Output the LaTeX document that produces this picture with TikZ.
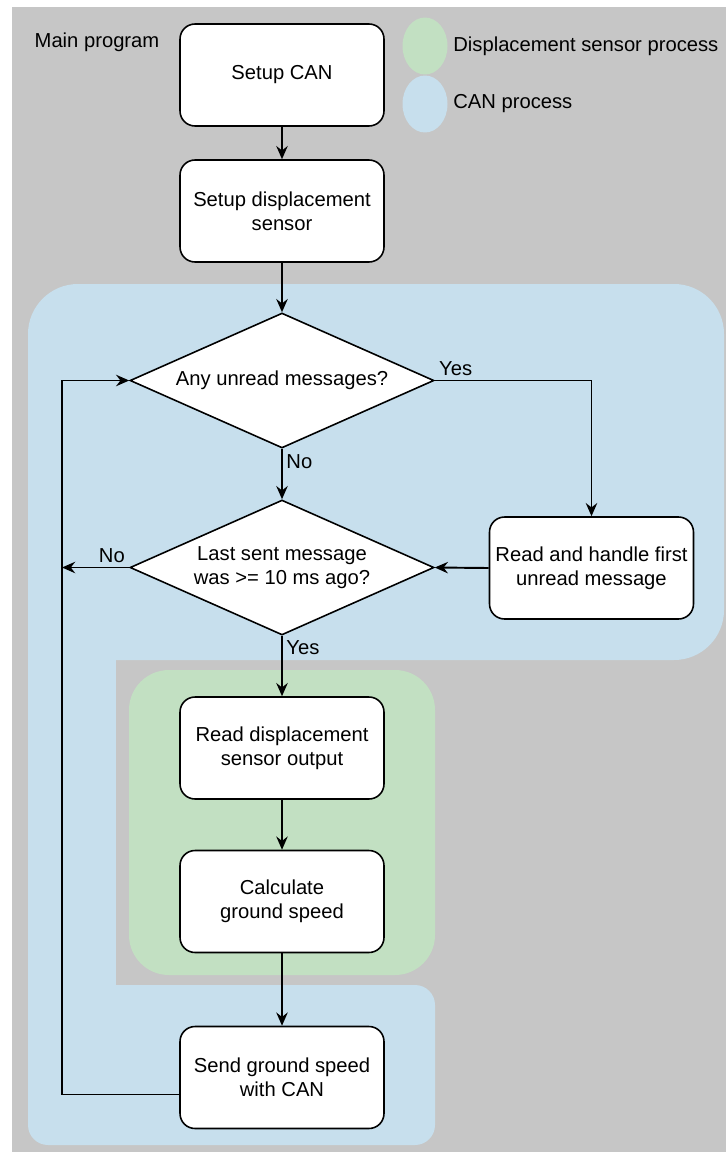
\documentclass[tikz,border=0pt]{standalone}
\usepackage{fontspec}
\setmainfont{Liberation Sans}
\usepackage{tikz}
\usetikzlibrary{arrows.meta, shapes.geometric, positioning}

\definecolor{graybg}{RGB}{198,198,198}
\definecolor{canbg}{RGB}{199,223,237}
\definecolor{sensorbg}{RGB}{194,224,194}

\begin{document}
\begin{tikzpicture}[x=0.02cm, y=-0.02cm,
        font=\fontsize{11.5}{13.6}\selectfont,
        stepbox/.style={draw, line width=0.9pt, fill=white, rounded corners=0.3cm,
            minimum width=4.08cm, minimum height=2.04cm, align=center, inner sep=2pt},
        decision/.style={draw, line width=0.9pt, fill=white, diamond, aspect=2.25, inner sep=0pt,
            minimum width=6.08cm, minimum height=2.7cm, align=center},
        flow/.style={line width=1.1pt, -{Stealth[length=7.5pt, width=6.5pt, inset=2.5pt]}},
        lbl/.style={inner sep=2pt}
    ]
        \useasboundingbox (0,0) rectangle (726,1153);

        % backgrounds
        \fill[graybg] (12,7) rectangle (726,1152);
        \fill[canbg, rounded corners=1cm] (28,284) rectangle (724,660);
        \fill[canbg] (28,580) rectangle (116,1030);
        \fill[canbg, rounded corners=0.4cm] (28,985) rectangle (435,1145);
        \fill[sensorbg, rounded corners=0.8cm] (129,670) rectangle (435,975);

        % legend
        \node (mainlbl) at (97,42) {Main program};
        \node[ellipse, fill=sensorbg, minimum width=0.9cm, minimum height=1.14cm] (legsensor) at (425,46) {};
        \node[ellipse, fill=canbg, minimum width=0.9cm, minimum height=1.14cm] (legcan) at (425,104) {};
        \node[anchor=west, inner sep=0pt] (legsensortxt) at (453,46) {Displacement sensor process};
        \node[anchor=west, inner sep=0pt] (legcantxt) at (453,104) {CAN process};

        % steps
        \node[stepbox] (setupcan) at (282,75) {Setup CAN};
        \node[stepbox] (setupsensor) at (282,211) {Setup displacement\\sensor};
        \node[decision] (unread) at (282,380.5) {Any unread messages?};
        \node[decision] (lastsent) at (282,567.5) {Last sent message\\was >= 10 ms ago?};
        \node[stepbox] (handle) at (591.5,568) {Read and handle first\\unread message};
        \node[stepbox] (readsensor) at (282,748) {Read displacement\\sensor output};
        \node[stepbox] (calc) at (282,901.5) {Calculate\\ground speed};
        \node[stepbox] (send) at (282,1077.5) {Send ground speed\\with CAN};
        \coordinate (nojoin) at (62,567.5);

        % connectors
        \draw[flow] (setupcan) -- (setupsensor);
        \draw[flow] (setupsensor) -- (unread);
        \draw[flow] (unread.east) -| node[pos=0, above right, lbl] {Yes} (handle.north);
        \draw[flow] (unread.south) -- node[pos=0.25, right, lbl] {No} (lastsent.north);
        \draw[flow] (handle.west) -- (lastsent.east);
        \draw[flow] (lastsent.west) -- node[pos=0, above left, lbl] {No} (nojoin);
        \draw[flow] (lastsent.south) -- node[pos=0.2, right, lbl] {Yes} (readsensor.north);
        \draw[flow] (readsensor) -- (calc);
        \draw[flow] (calc) -- (send);
        \draw[flow] ([yshift=-0.34cm]send.west) -| (nojoin) |- (unread.west);
    \end{tikzpicture}
\end{document}
